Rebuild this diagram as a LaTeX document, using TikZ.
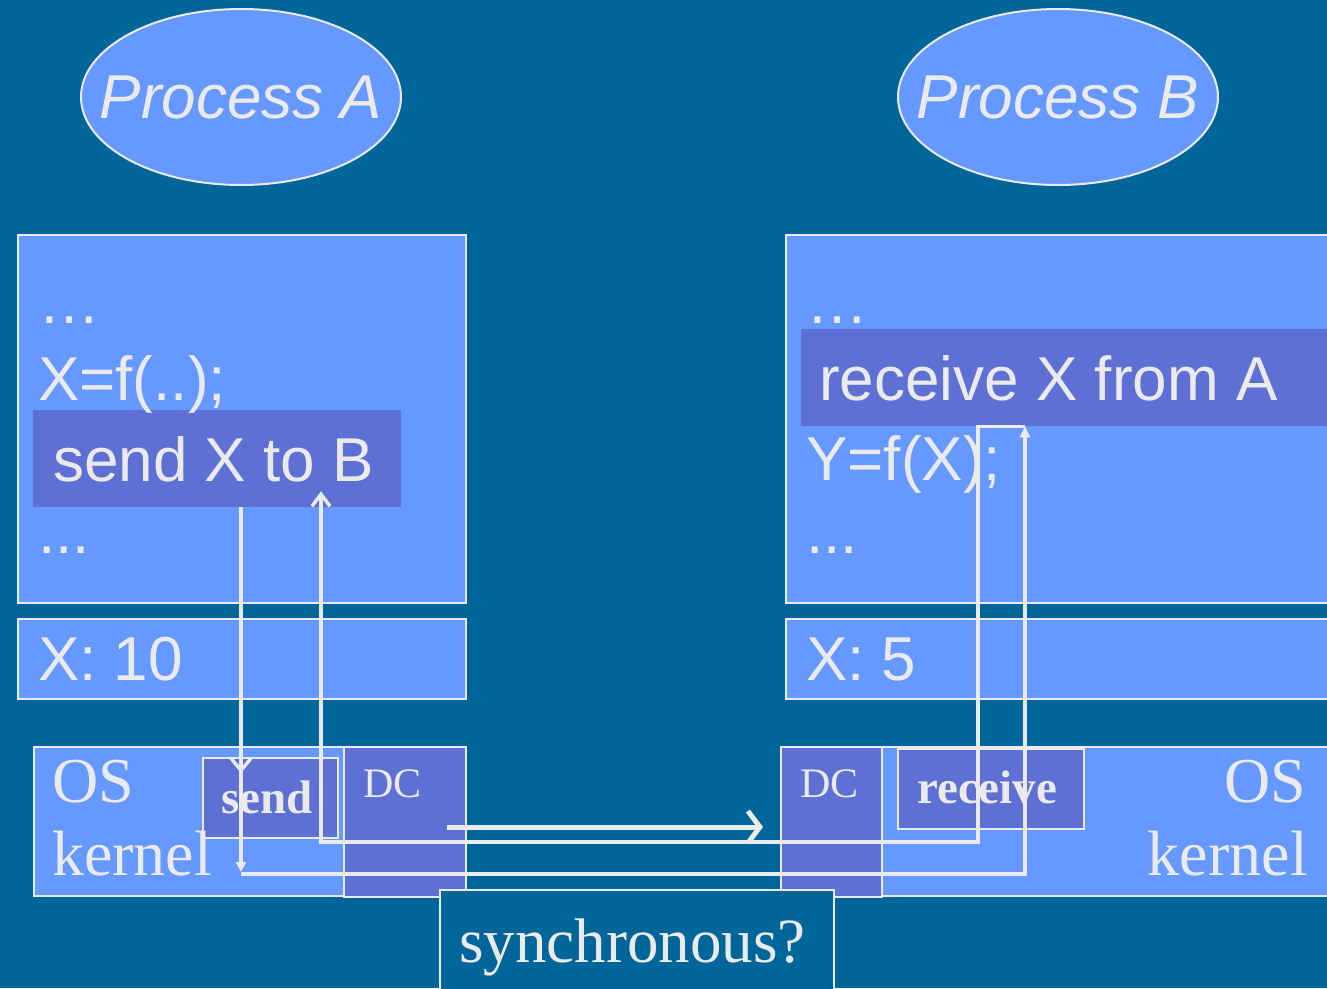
\documentclass[tikz,border=0pt]{standalone}
\usepackage{fontspec}
\setmainfont{Liberation Serif}
\setsansfont{Liberation Sans}
\usepackage{tikz}
\usetikzlibrary{positioning, arrows.meta, shapes.geometric, calc}

\definecolor{slidebg}{HTML}{006699}
\definecolor{procfill}{HTML}{6699FF}
\definecolor{callfill}{HTML}{5F70D5}
\definecolor{chalk}{HTML}{EAEAEA}

\begin{document}
\begin{tikzpicture}[
		x=1pt, y=-1pt,
		proc/.style={ellipse, draw=chalk, line width=2pt, fill=procfill, minimum width=320pt, minimum height=176pt, inner sep=0pt},
		proclabel/.style={text=chalk, font=\sffamily\itshape\fontsize{62}{62}\selectfont},
		panel/.style={rectangle, draw=chalk, line width=2pt, fill=procfill, anchor=north west, inner sep=0pt},
		callbox/.style={rectangle, fill=callfill, anchor=north west, inner sep=0pt},
		kbox/.style={rectangle, draw=chalk, line width=2pt, fill=callfill, anchor=north west, inner sep=0pt},
		code/.style={anchor=base west, inner sep=0pt, text=chalk, font=\sffamily\fontsize{62}{62}\selectfont},
		ktext/.style={inner sep=0pt, text=chalk, font=\fontsize{64}{64}\selectfont},
		wire/.style={draw=chalk, line width=3.4pt},
		bigarrow/.style={draw=chalk, line width=5pt, -{Straight Barb[length=12pt, width=32pt]}}
		]

		\useasboundingbox (0,0) rectangle (1327,988);
		\clip (0,0) rectangle (1327,988);
		\fill[slidebg] (0,0) rectangle (1327,988);

		% the two processes
		\node[proc, label={[proclabel]center:Process A}] (procA) at (241,97) {};
		\node[proc, label={[proclabel]center:Process B}] (procB) at (1058,97) {};

		% user code and variable X
		\node[panel, minimum width=448pt, minimum height=368pt] (codeA) at (17,234) {};
		\node[panel, minimum width=560pt, minimum height=368pt] (codeB) at (785,234) {};
		\node[callbox, minimum width=368pt, minimum height=97pt] (sendcall) at (33,410) {};
		\node[callbox, minimum width=540pt, minimum height=97pt] (recvcall) at (801,329) {};

		\node[code] (dotsA1) at (38,323) {…};
		\node[code] (lineA1) at (38,400) {X=f(..);};
		\node[code] (lineA2) at (53,481) {send X to B};
		\node[code] (dotsA2) at (38,553) {...};

		\node[code] (dotsB1) at (806,323) {…};
		\node[code] (lineB1) at (819,400) {receive X from A};
		\node[code] (lineB2) at (806,480) {Y=f(X);};
		\node[code] (dotsB2) at (806,553) {...};

		\node[panel, minimum width=448pt, minimum height=80pt] (varA) at (17,618) {};
		\node[panel, minimum width=560pt, minimum height=80pt] (varB) at (785,618) {};
		\node[code] (valA) at (38,680) {X: 10};
		\node[code] (valB) at (806,680) {X: 5};

		% kernels
		\node[panel, minimum width=432pt, minimum height=149pt] (kernA) at (33,746) {};
		\node[kbox, minimum width=122pt, minimum height=150pt] (dcA) at (343,746) {};
		\node[kbox, minimum width=135pt, minimum height=80pt] (ksend) at (202,757) {};
		\node[kbox, minimum width=101pt, minimum height=150pt] (dcB) at (780,746) {};
		\node[panel, minimum width=460pt, minimum height=149pt] (kernB) at (881,746) {};
		\node[kbox, minimum width=186pt, minimum height=80pt] (krecv) at (897,748) {};

		\node[ktext, anchor=base west] (osA) at (52,802) {OS};
		\node[ktext, anchor=base west] (kernelA) at (52,875) {kernel};
		\node[ktext, anchor=base east] (osB) at (1306,802) {OS};
		\node[ktext, anchor=base east] (kernelB) at (1308,875) {kernel};
		\node[ktext, anchor=base west, font=\fontsize{42}{42}\selectfont] (dcAtext) at (363,797) {DC};
		\node[ktext, anchor=base west, font=\fontsize{42}{42}\selectfont] (dcBtext) at (800,797) {DC};
		\node[ktext, anchor=base west, font=\bfseries\fontsize{47}{47}\selectfont] (sendtext) at (221,813) {send};
		\node[ktext, anchor=base west, font=\bfseries\fontsize{47}{47}\selectfont] (recvtext) at (917,803) {receive};

		% message and reply routes
		\coordinate (downA) at (241,874);
		\coordinate (upB) at (1025,874);
		\coordinate (ackB) at (978,842);
		\coordinate (ackA) at (321,842);

		\draw[wire, -{Straight Barb[length=12pt, width=20pt]}] (sendcall.south -| downA) -- ($(ksend.north -| downA)+(0,16)$);
		\draw[wire, -{Triangle[length=10pt, width=10pt]}] ($(ksend.north -| downA)+(0,14)$) -- ($(downA)+(0,-2)$);
		\draw[wire, -{Triangle[length=11pt, width=10pt]}] (downA) -- (upB) -- (recvcall.south -| upB);
		\draw[wire, -{Straight Barb[length=12pt, width=18pt]}] (recvcall.south -| upB) -- (recvcall.south -| ackB) -- (ackB) -- (ackA) -- ($(sendcall.south -| ackA)+(0,-16)$);

		\draw[bigarrow] ($(dcA.east)+(-20,5)$) -- ($(dcB.west)+(-17,5)$);

		\node[rectangle, draw=chalk, line width=2pt, fill=slidebg, anchor=north west, inner sep=0pt, minimum width=394pt, minimum height=130pt] (sync) at (439,889) {};
		\node[ktext, anchor=base west, font=\fontsize{63}{63}\selectfont] (synctext) at (459,962) {synchronous?};
	\end{tikzpicture}
\end{document}
